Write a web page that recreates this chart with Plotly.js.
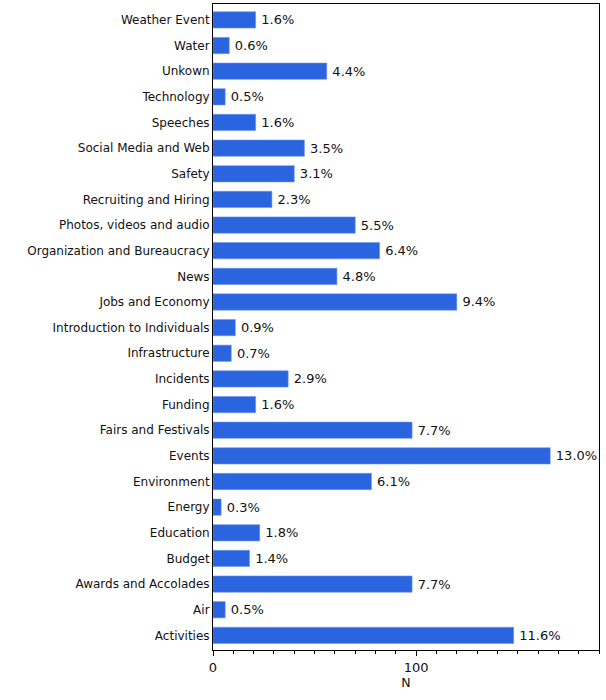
<!DOCTYPE html>
<html>
<head>
<meta charset="utf-8">
<script src="https://cdn.plot.ly/plotly-3.0.1.min.js"></script>
<style>html,body{margin:0;padding:0;background:#fff;}#chart{width:606px;height:700px;}</style>
</head>
<body>
<div id="chart"></div>
<script>
var categories = ["Activities","Air","Awards and Accolades","Budget","Education","Energy","Environment","Events","Fairs and Festivals","Funding","Incidents","Infrastructure","Introduction to Individuals","Jobs and Economy","News","Organization and Bureaucracy","Photos, videos and audio","Recruiting and Hiring","Safety","Social Media and Web","Speeches","Technology","Unkown","Water","Weather Event"];
var counts = [148,6,98,18,23,4,78,166,98,21,37,9,11,120,61,82,70,29,40,45,21,6,56,8,21];
var pctLabels = ["11.6%","0.5%","7.7%","1.4%","1.8%","0.3%","6.1%","13.0%","7.7%","1.6%","2.9%","0.7%","0.9%","9.4%","4.8%","6.4%","5.5%","2.3%","3.1%","3.5%","1.6%","0.5%","4.4%","0.6%","1.6%"];
var xTickVals = [0,100];
var xTickText = ["0","100"];

var font = "DejaVu Sans, sans-serif";
var trace = {
  type: "bar",
  orientation: "h",
  y: categories,
  x: counts,
  text: pctLabels.map(function(s){ return "\u2009" + s; }),
  textposition: "outside",
  cliponaxis: false,
  textfont: {family: font, size: 13, color: "#111"},
  marker: {color: "rgb(42,100,222)", line: {color: "rgb(110,150,235)", width: 0.6}},
  hoverinfo: "none"
};
var layout = {
  width: 606, height: 700,
  margin: {l: 213, r: 7, t: 4, b: 50},
  paper_bgcolor: "#fff", plot_bgcolor: "#fff",
  bargap: 0.365,
  showlegend: false,
  font: {family: font, size: 12, color: "#111"},
  xaxis: {
    range: [0, 190],
    tickvals: xTickVals, ticktext: xTickText,
    ticks: "outside", ticklen: 5, tickcolor: "#000",
    minor: {tick0: 0, dtick: 10, ticks: "outside", ticklen: 3, tickcolor: "#000", showgrid: false},
    showgrid: false, zeroline: false,
    showline: true, linecolor: "#000", linewidth: 1, mirror: true,
    tickfont: {family: font, size: 13, color: "#111"},
    title: {text: "N", font: {family: font, size: 12.5, color: "#111"}, standoff: 2}
  },
  yaxis: {
    type: "category",
    categoryorder: "array", categoryarray: categories,
    range: [-0.57, categories.length - 1 + 0.62],
    showgrid: false, zeroline: false,
    showline: true, linecolor: "#000", linewidth: 1, mirror: true,
    ticks: "", ticklen: 0,
    tickfont: {family: font, size: 12, color: "#111"}
  }
};
Plotly.newPlot("chart", [trace], layout, {displayModeBar: false, staticPlot: true});
</script>
</body>
</html>
